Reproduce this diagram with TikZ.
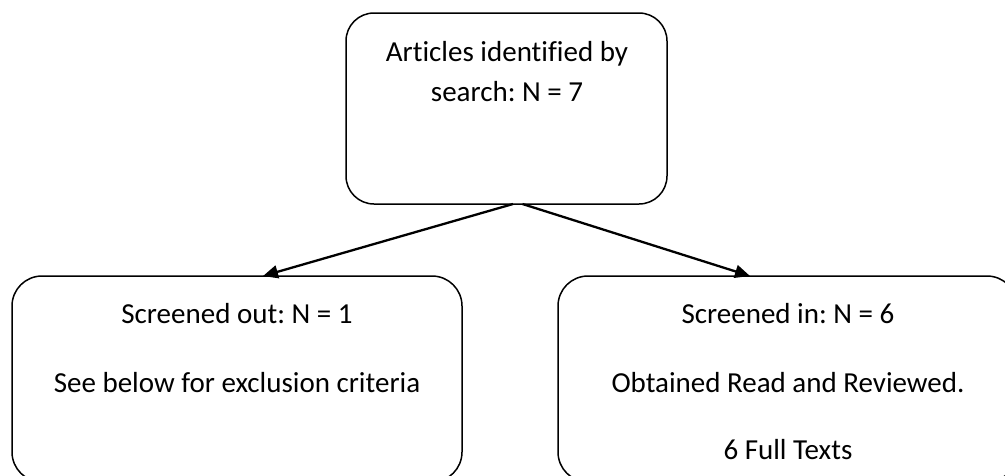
\documentclass[tikz,border=0pt]{standalone}
\usepackage{fontspec}
\setmainfont[Ligatures=NoCommon]{Carlito}
\usetikzlibrary{arrows.meta}
\frenchspacing
\begin{document}
\begin{tikzpicture}[x=1pt,y=-1pt,
  flowbox/.style={draw=black,line width=1.5pt,rounded corners=28pt,
    rectangle,inner sep=0pt,outer sep=0pt},
  boxtext/.style={anchor=base,inner sep=0pt,font=\fontsize{29}{40}\selectfont},
  arr/.style={line width=2.3pt,-{Triangle[length=15pt,width=13pt]}}]
\useasboundingbox (0,0) rectangle (1005,475);

% boxes
\node[flowbox,minimum width=321pt,minimum height=191pt] (search) at (506.5,108.5) {};
\node[flowbox,rounded corners=30pt,minimum width=450pt,minimum height=206pt] (out) at (237,379) {};
\node[flowbox,rounded corners=30pt,minimum width=459pt,minimum height=206pt] (in) at (787.5,379) {};

% box texts
\node[boxtext] (s1) at (507,61) {Articles identified by};
\node[boxtext] (s2) at (507,101) {search: N = 7};
\node[boxtext] (o1) at (237,323) {Screened out: N = 1};
\node[boxtext] (o2) at (237,392) {See below for exclusion criteria};
\node[boxtext] (i1) at (788,323) {Screened in: N = 6};
\node[boxtext] (i2) at (788,392) {Obtained Read and Reviewed.};
\node[boxtext] (i3) at (788,459) {6 Full Texts};

% connectors
\draw[arr] ([xshift=6.5pt]search.south) -- ([xshift=26pt]out.north);
\draw[arr] ([xshift=16pt]search.south) -- ([xshift=-37.5pt]in.north);
\end{tikzpicture}
\end{document}
